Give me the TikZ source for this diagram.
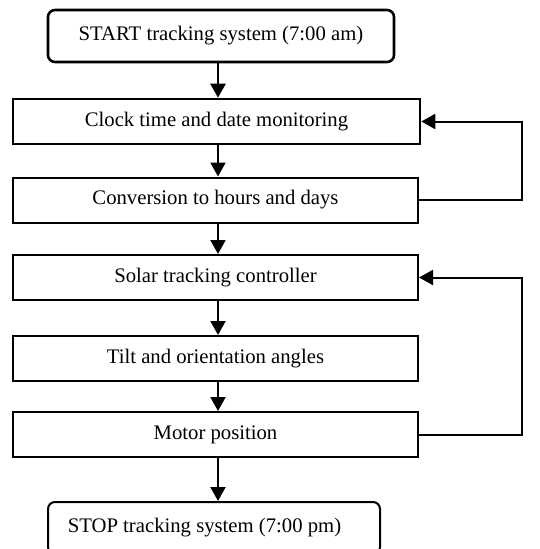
\documentclass[tikz,border=0pt]{standalone}
\usepackage{fontspec}
\setmainfont{Liberation Serif}
\usetikzlibrary{arrows.meta}
\begin{document}
\begin{tikzpicture}[x=1pt,y=-1pt,
  box/.style={draw,line width=2pt,rectangle,minimum height=45pt,inner sep=0pt,font=\fontsize{20.7}{24}\selectfont},
  rbox/.style={box,rounded corners=7pt,line width=2.6pt,minimum height=52pt},
  arr/.style={line width=2pt,-{Triangle[width=15pt,length=14pt]}},
  fb/.style={line width=2pt,-{Triangle[width=15pt,length=14pt]}}]
\useasboundingbox (0,0) rectangle (539,549);
\coordinate (ax) at (218,0);
\coordinate (rx) at (522,0);
\node[rbox,minimum width=346pt] (start) at (221,36) {START tracking system (7:00 am)};
\node[box,minimum width=407pt,line width=2.6pt] (clock) at (216.5,121.5) {Clock time and date monitoring};
\node[box,minimum width=405pt] (conv) at (215.5,200) {Conversion to hours and days};
\node[box,minimum width=405pt] (solar) at (215.5,277.5) {Solar tracking controller};
\node[box,minimum width=405pt] (tilt) at (215.5,358.5) {Tilt and orientation angles};
\node[box,minimum width=405pt] (motor) at (215.5,434.5) {Motor position};
\node[rbox,line width=2pt,minimum width=332pt] (stop) at (214,528) {STOP tracking system (7:00 pm)\hspace*{19pt}};
\draw[arr,line width=2.8pt] (start.south -| ax) -- (clock.north -| ax);
\draw[arr] (clock.south -| ax) -- (conv.north -| ax);
\draw[arr] (conv.south -| ax) -- (solar.north -| ax);
\draw[arr] (solar.south -| ax) -- (tilt.north -| ax);
\draw[arr] (tilt.south -| ax) -- (motor.north -| ax);
\draw[arr] (motor.south -| ax) -- (stop.north -| ax);
\draw[fb] (conv.east) -- (conv.east -| rx) |- (clock.east);
\draw[fb] (motor.east) -- (motor.east -| rx) |- (solar.east);
\end{tikzpicture}
\end{document}
